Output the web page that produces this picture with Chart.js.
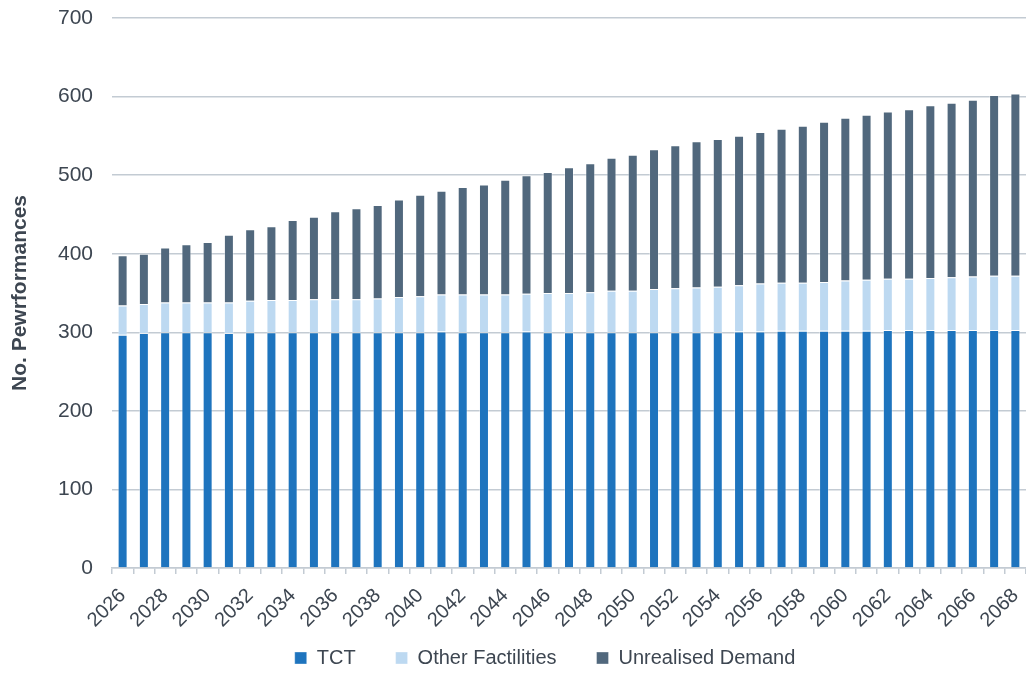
<!DOCTYPE html>
<html>
<head>
<meta charset="utf-8">
<script src="https://cdn.jsdelivr.net/npm/chart.js@4/dist/chart.umd.min.js"></script>
<style>
  html, body { margin: 0; padding: 0; background: #fff; }
  #wrap { width: 1026px; height: 673px; position: relative; }
</style>
</head>
<body>
<div id="wrap"><canvas id="perfChart"></canvas></div>
<script>
// ── Data ─────────────────────────────────────────────────────────────────────

const years = [];
for (let y = 2026; y <= 2068; y++) years.push(String(y));

const tct = [
  297, 299, 300, 300, 300, 299, 300, 300, 300, 300, 300, 300, 300, 300, 300,
  301, 300, 300, 300, 301, 300, 300, 300, 300, 300, 300, 300, 300, 300, 301,
  301, 302, 302, 302, 302, 302, 303, 303, 303, 303, 303, 303, 303
];

const otherFacilities = [
  37, 37, 38, 38, 38, 39, 40, 41, 41, 42, 42, 42, 43, 45, 46,
  47, 48, 48, 48, 48, 50, 50, 51, 53, 53, 55, 56, 57, 58, 59,
  61, 61, 61, 62, 64, 65, 65, 65, 66, 67, 68, 69, 69
];

const unrealisedDemand = [
  64, 64, 70, 74, 77, 86, 91, 94, 102, 105, 112, 116, 119, 124, 129,
  132, 137, 140, 146, 151, 154, 160, 164, 169, 173, 178, 182, 186, 188, 190,
  193, 196, 200, 204, 207, 210, 213, 216, 220, 222, 225, 230, 232
];

const yTicks = [0, 100, 200, 300, 400, 500, 600, 700];

// ── Style ────────────────────────────────────────────────────────────────────

const FONT = "'Liberation Sans', Arial, sans-serif";
const TEXT = '#3d4651';
const GRID = '#c3cbd3';
const LEGEND_PAD = 40;
const LEGEND_FONT = 20;

function barSet(label, data, color) {
  return {
    label,
    data,
    backgroundColor: color,
    borderColor: 'rgba(255,255,255,0.35)',
    borderWidth: 1,
    barPercentage: 0.47,
    categoryPercentage: 1.0,
  };
}

// legend takes no layout space; it is parked under the year labels instead
const legendPlacement = {
  id: 'legendPlacement',
  beforeLayout(chart) {
    const lg = chart.legend;
    if (lg && !lg._wrappedFit) {
      const fit = lg.fit;
      lg.fit = function () {
        fit.call(this);
        this.height = 0;
      };
      lg._wrappedFit = true;
    }
  },
  afterLayout(chart) {
    const lg = chart.legend;
    const top = 658 - LEGEND_PAD - LEGEND_FONT / 2;
    lg.top = top;
    lg.bottom = top + LEGEND_PAD + LEGEND_FONT;
    lg.left += 32;
    lg.right += 32;
  }
};

// ── Chart ────────────────────────────────────────────────────────────────────

new Chart(document.getElementById('perfChart'), {
  type: 'bar',
  data: {
    labels: years,
    datasets: [
      barSet('TCT', tct, '#1e74be'),
      barSet('Other Factilities', otherFacilities, '#bdd9f1'),
      barSet('Unrealised Demand', unrealisedDemand, '#51687d'),
    ]
  },
  plugins: [legendPlacement],
  options: {
    responsive: true,
    maintainAspectRatio: false,
    animation: false,
    layout: { padding: { top: 18, right: 0, left: 0, bottom: 35 } },
    plugins: {
      legend: {
        position: 'bottom',
        labels: {
          color: TEXT,
          font: { family: FONT, size: LEGEND_FONT },
          boxWidth: 12,
          boxHeight: 12,
          padding: LEGEND_PAD,
        }
      },
      tooltip: { enabled: false }
    },
    scales: {
      x: {
        stacked: true,
        afterFit: s => {
          s.height = 70;
          s.paddingLeft = 0;
          s.paddingRight = 0;
        },
        grid: {
          offset: true,
          drawOnChartArea: false,
          color: GRID,
          lineWidth: 1.5,
          tickLength: 6,
        },
        border: { color: GRID, width: 1.5 },
        ticks: {
          color: TEXT,
          font: { family: FONT, size: 20 },
          autoSkip: false,
          maxRotation: 45,
          minRotation: 45,
          padding: 10,
          callback: (v, i) => (i % 2 === 0 ? years[i] : ''),
        }
      },
      y: {
        stacked: true,
        min: 0,
        max: 700,
        afterBuildTicks: s => { s.ticks = yTicks.map(v => ({ value: v })); },
        afterFit: s => {
          s.width = 112;
          s.paddingTop = 0;
          s.paddingBottom = 0;
        },
        grid: { color: GRID, lineWidth: 1.5, drawTicks: false },
        border: { display: false },
        ticks: {
          color: TEXT,
          font: { family: FONT, size: 21 },
          padding: 19,
        },
        title: {
          display: true,
          text: 'No. Pewrformances',
          color: TEXT,
          font: { family: FONT, size: 21, weight: 'bold' },
          padding: { top: 8, bottom: 0 },
        }
      }
    }
  }
});
</script>
</body>
</html>
